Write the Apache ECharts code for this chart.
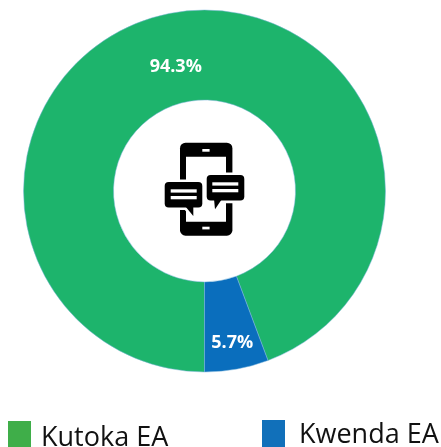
<!DOCTYPE html>
<html>
<head>
<meta charset="utf-8">
<style>html,body{margin:0;padding:0;background:#fff}#c{width:441px;height:447px}</style>
<script src="https://cdn.jsdelivr.net/npm/echarts@6/dist/echarts.min.js"></script>
</head>
<body>
<div id="c"></div>
<script>
var categories = ['Kutoka EA', 'Kwenda EA'];
var values = [94.3, 5.7];
var sliceColors = ['#1DB46C', '#0A6EBD'];
var legendColors = ['#3FAE49', '#1170BA'];
var labelShift = [[-4, 13], [3, 15]];

function rr(x, y, w, h, r, fill) {
  return {type: 'rect', shape: {x: x, y: y, width: w, height: h, r: r}, style: {fill: fill}};
}
function halo(x, y, w, h, r) {
  return {type: 'rect', shape: {x: x, y: y, width: w, height: h, r: r}, style: {fill: '#fff', stroke: '#fff', lineWidth: 5.2}};
}
function tail(points, stroked) {
  return {type: 'polygon', shape: {points: points}, style: stroked
    ? {fill: '#fff', stroke: '#fff', lineWidth: 5.2, lineJoin: 'round'}
    : {fill: '#000'}};
}
var leftTailShape = [[185, 206], [193.3, 216], [193.3, 206]];
var rightTailShape = [[214, 199], [215, 209.3], [222, 199]];

var icon = [
  rr(180, 142.7, 52.4, 93, 5.5, '#000'),
  rr(186, 156.7, 40, 65, 0, '#fff'),
  rr(202.3, 149, 7.3, 2.7, 0, '#fff'),
  rr(202.3, 226.7, 7.3, 2.7, 0, '#fff'),
  halo(164.7, 182, 37.6, 25.4, 4),
  tail(leftTailShape, true),
  rr(164.7, 182, 37.6, 25.4, 4, '#000'),
  tail(leftTailShape, false),
  halo(206.7, 175, 37.6, 25.6, 4),
  tail(rightTailShape, true),
  rr(206.7, 175, 37.6, 25.6, 4, '#000'),
  tail(rightTailShape, false),
  rr(170.7, 189.3, 26, 3.3, 0, '#fff'),
  rr(170.7, 196, 26, 3.3, 0, '#fff'),
  rr(212.3, 182.3, 26, 3.3, 0, '#fff'),
  rr(212.3, 189, 26, 3.3, 0, '#fff')
];

var chart = echarts.init(document.getElementById('c'), null, {renderer: 'canvas'});
function legendText(top, left) {
  var font = {fontFamily: 'Open Sans', fontSize: 27, color: '#111'};
  return {fontFamily: 'Open Sans', fontSize: 27, color: '#111', padding: [top, 0, 0, left], rich: {t: font}};
}
chart.setOption({
  animation: false,
  backgroundColor: '#fff',
  legend: [
    {data: [{name: categories[0], itemStyle: {color: legendColors[0], borderWidth: 0}}], formatter: '{t|{name}}', left: 8, top: 421, itemWidth: 23, itemHeight: 26, textStyle: legendText(9, 5), selectedMode: false, padding: 0, icon: 'rect'},
    {data: [{name: categories[1], itemStyle: {color: legendColors[1], borderWidth: 0}}], formatter: '{t|{name}}', left: 262, top: 420, itemWidth: 23, itemHeight: 27, textStyle: legendText(4, 9), selectedMode: false, padding: 0, icon: 'rect'}
  ],
  series: [{
    type: 'pie',
    center: [204.5, 191],
    radius: [91, 181],
    startAngle: 270,
    silent: true,
    data: categories.map(function (c, i) {
      return {name: c, value: values[i], itemStyle: {color: sliceColors[i], borderColor: '#7fb7dd', borderWidth: 0.5}};
    }),
    label: {
      position: 'inside',
      formatter: function (p) { return p.value + '%'; },
      color: '#fff', fontFamily: 'Open Sans', fontWeight: 'bold', fontSize: 18
    },
    labelLine: {show: false},
    labelLayout: function (p) {
      return {dx: labelShift[p.dataIndex][0], dy: labelShift[p.dataIndex][1]};
    }
  }],
  graphic: {elements: [{type: 'group', silent: true, children: icon}]}
});
</script>
</body>
</html>
